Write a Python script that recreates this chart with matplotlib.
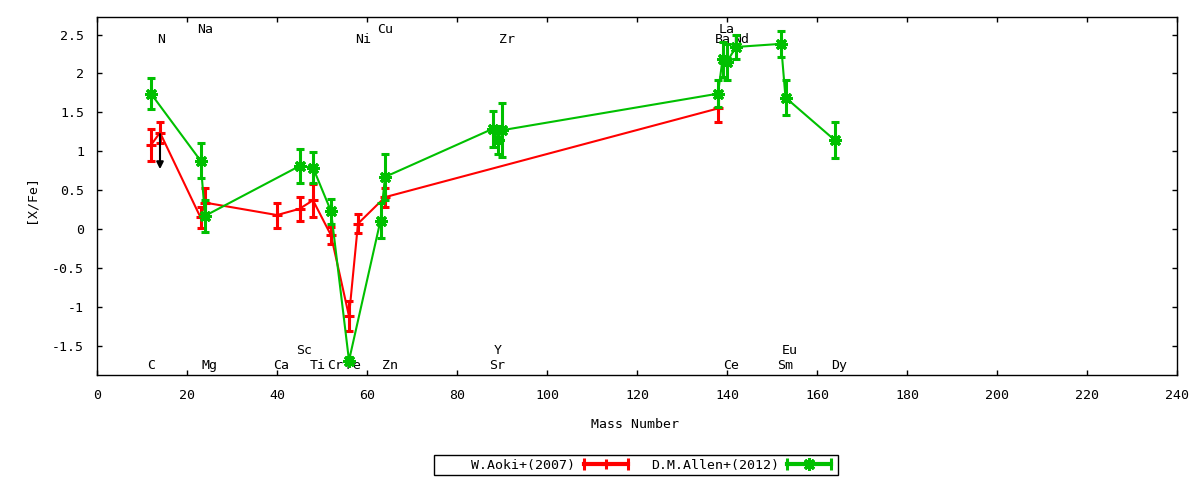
import matplotlib
matplotlib.use('Agg')
import matplotlib.pyplot as plt
from matplotlib.lines import Line2D
from matplotlib.legend_handler import HandlerLine2D
from matplotlib.patches import Rectangle
from matplotlib.ticker import FuncFormatter

# ---------------- data ----------------
aoki_mass = [12, 14, 23, 24, 40, 45, 48, 52, 56, 58, 64, 138]
aoki_xfe = [1.08, 1.24, 0.15, 0.34, 0.18, 0.26, 0.37, -0.08, -1.12, 0.07, 0.41, 1.55]
aoki_err = [0.20, 0.14, 0.14, 0.19, 0.16, 0.15, 0.21, 0.11, 0.19, 0.12, 0.12, 0.18]

allen_mass = [12, 23, 24, 45, 48, 52, 56, 63, 64, 88, 89, 90,
              138, 139, 140, 142, 152, 153, 164]
allen_xfe = [1.74, 0.88, 0.17, 0.81, 0.79, 0.23, -1.69, 0.11, 0.67, 1.29, 1.15, 1.27,
             1.74, 2.18, 2.15, 2.34, 2.38, 1.69, 1.14]
allen_err = [0.20, 0.23, 0.21, 0.22, 0.20, 0.16, 0.05, 0.23, 0.30, 0.23, 0.18, 0.35,
             0.17, 0.23, 0.23, 0.15, 0.17, 0.23, 0.23]

# upper limit arrow for N (Aoki)
n_limit_mass = 14
n_limit_from = 1.22
n_limit_to = 0.77

# element labels (name, mass number) in four rows
top_row1 = [("N", 14), ("Ni", 58), ("Zr", 90), ("Ba", 138), ("Nd", 142)]
top_row2 = [("Na", 23), ("Cu", 63), ("La", 139)]
bot_row1 = [("C", 12), ("Mg", 24), ("Ca", 40), ("Ti", 48), ("Cr", 52), ("Fe", 56),
            ("Zn", 64), ("Sr", 88), ("Ce", 140), ("Sm", 152), ("Dy", 164)]
bot_row2 = [("Sc", 45), ("Y", 89), ("Eu", 153)]
row_levels = [2.394, 2.522, -1.792, -1.611]

series_labels = ["W.Aoki+(2007)", "D.M.Allen+(2012)"]
xticks = list(range(0, 241, 20))
yticks = [-1.5, -1.0, -0.5, 0.0, 0.5, 1.0, 1.5, 2.0, 2.5]

# ---------------- style ----------------
plt.rcParams['font.family'] = ['DejaVu Sans Mono']
plt.rcParams['font.size'] = 9.5
plt.rcParams['axes.unicode_minus'] = False

RED = '#ff0000'
GREEN = '#00c000'

fig = plt.figure(figsize=(12, 4.8), dpi=100)
ax = fig.add_axes([97 / 1200, 1 - 375 / 480, 1080 / 1200, 358 / 480])

ax.errorbar(aoki_mass, aoki_xfe, yerr=aoki_err, color=RED, lw=1.5,
            marker='+', ms=7, mew=2.2, elinewidth=2.2, capsize=3.2, capthick=2.2,
            zorder=3)
ax.errorbar(allen_mass, allen_xfe, yerr=allen_err, color=GREEN, lw=1.5,
            marker=(8, 2, 0), ms=9, mew=2.2, elinewidth=2.2, capsize=3.0, capthick=2.2,
            zorder=4)

ax.annotate('', xy=(n_limit_mass, n_limit_to), xytext=(n_limit_mass, n_limit_from),
            arrowprops=dict(arrowstyle='-|>', color='black', lw=1.5,
                            mutation_scale=10, shrinkA=0, shrinkB=0),
            zorder=5)

label_offset = -0.75
for rows, lvl in zip([top_row1, top_row2, bot_row1, bot_row2], row_levels):
    for name, m in rows:
        ax.text(m + label_offset, lvl, name, ha='left', va='baseline', zorder=1)

ax.set_xlim(0, 240)
ax.set_ylim(-1.875, 2.725)
ax.set_xticks(xticks)
ax.set_yticks(yticks)
ax.yaxis.set_major_formatter(FuncFormatter(lambda v, p: '%g' % v))
ax.tick_params(direction='in', top=True, right=True, length=3.3, width=1)
ax.tick_params(axis='x', pad=10)
ax.tick_params(axis='y', pad=9.4)
for s in ax.spines.values():
    s.set_linewidth(1)

ax.set_xlabel('Mass Number')
ax.xaxis.set_label_coords(0.498, -0.1201)
ax.set_ylabel('[X/Fe]')
ax.yaxis.set_label_coords(-0.055, 0.492)

# ---------------- legend (gnuplot style) ----------------
red_end = Line2D([], [], color=RED, lw=3.0, marker='|', ms=9, mew=2.2)
red_mid = Line2D([], [], color=RED, ls='none', marker='+', ms=7, mew=2.2)
green_end = Line2D([], [], color=GREEN, lw=3.0, marker='|', ms=9, mew=2.2)
green_mid = Line2D([], [], color=GREEN, ls='none', marker=(8, 2, 0), ms=9, mew=2.2)
hmap = {red_end: HandlerLine2D(numpoints=2, marker_pad=0),
        green_end: HandlerLine2D(numpoints=2, marker_pad=0),
        red_mid: HandlerLine2D(numpoints=1),
        green_mid: HandlerLine2D(numpoints=1)}
fig.legend(handles=[(red_end, red_mid), (green_end, green_mid)], labels=series_labels,
           ncol=2, markerfirst=False, frameon=False, loc='center',
           bbox_to_anchor=(651.2 / 1200, 1 - 465 / 480), bbox_transform=fig.transFigure,
           borderpad=0, borderaxespad=0, handlelength=44 / 13.2, handletextpad=0.64,
           columnspacing=23 / 13.2, handler_map=hmap)
fig.add_artist(Rectangle((434 / 1200, 1 - 475 / 480), 404 / 1200, 20 / 480,
                         transform=fig.transFigure, fill=False, ec='black', lw=1))

fig.savefig('out.png', dpi=100)
